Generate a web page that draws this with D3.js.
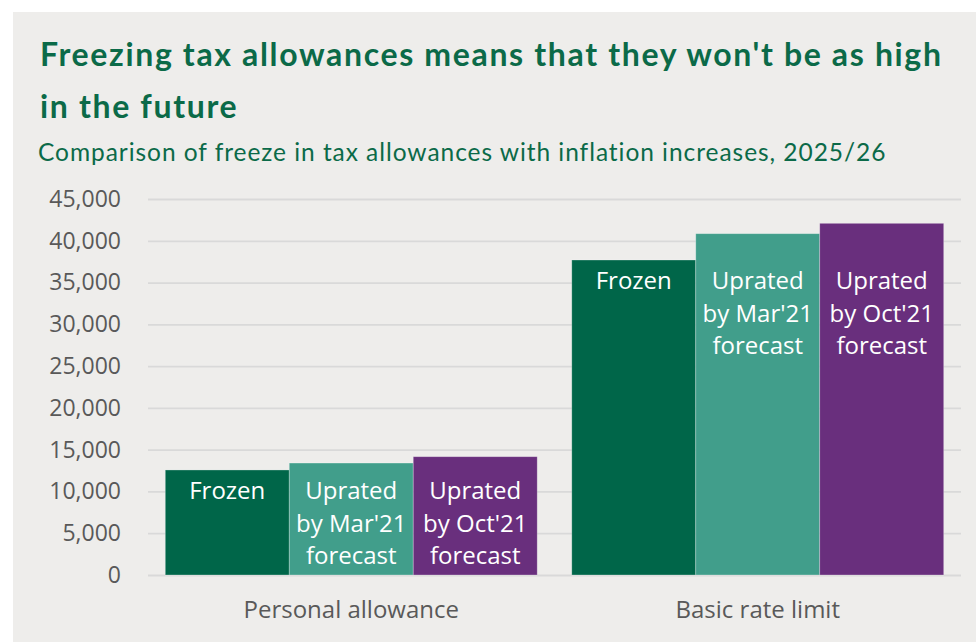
<!DOCTYPE html>
<html>
<head>
<meta charset="utf-8">
<script src="https://cdn.jsdelivr.net/npm/d3@7"></script>
<style>
  html, body { margin: 0; padding: 0; background: #ffffff; }
  svg { display: block; }
</style>
</head>
<body>
<svg id="chart" width="976" height="642"></svg>
<script>
// Categories and series values (2025/26 thresholds, £)
const categories = ["Personal allowance", "Basic rate limit"];
const seriesNames = ["Frozen", "Uprated by Mar'21 forecast", "Uprated by Oct'21 forecast"];
const seriesLabelLines = [["Frozen"], ["Uprated", "by Mar'21", "forecast"], ["Uprated", "by Oct'21", "forecast"]];
const frozen = [12570, 37700];
const upratedMar21 = [13400, 40850];
const upratedOct21 = [14160, 42090];
const yTicks = [0, 5000, 10000, 15000, 20000, 25000, 30000, 35000, 40000, 45000];
const seriesColors = ["#006649", "#419e8b", "#692f7d"];

const seriesValues = [frozen, upratedMar21, upratedOct21];
const rows = categories.map((c, i) => ({
  category: c,
  values: seriesNames.map((s, j) => ({ series: s, idx: j, value: seriesValues[j][i] }))
}));

const svg = d3.select("#chart");
const W = 976, H = 642;
const plot = { left: 148, right: 961, top: 199, bottom: 575 };

// Panel background
svg.append("rect")
  .attr("x", 13).attr("y", 12)
  .attr("width", W - 13).attr("height", H - 12)
  .attr("fill", "#eeedeb");

// Title and subtitle
const titleG = svg.append("g").attr("font-family", "Lato, sans-serif").attr("fill", "#0b6a48");
titleG.append("text").attr("x", 40).attr("y", 66)
  .attr("font-size", 32).attr("font-weight", 700).attr("letter-spacing", 1.65)
  .text("Freezing tax allowances means that they won't be as high");
titleG.append("text").attr("x", 40).attr("y", 118)
  .attr("font-size", 32).attr("font-weight", 700).attr("letter-spacing", 1.65)
  .text("in the future");
titleG.append("text").attr("x", 38).attr("y", 161)
  .attr("font-size", 24.5).attr("font-weight", 400).attr("letter-spacing", 0.95)
  .text("Comparison of freeze in tax allowances with inflation increases, 2025/26");

// Scales
const y = d3.scaleLinear().domain([0, 45000]).range([plot.bottom, plot.top]);
const x0 = d3.scaleBand().domain(categories).range([plot.left, plot.right])
  .paddingInner(0.085).paddingOuter(0.0425);
const x1 = d3.scaleBand().domain(seriesNames).range([0, x0.bandwidth()]).padding(0);

// Gridlines
const yAxisGrid = d3.axisLeft(y).tickValues(yTicks)
  .tickSize(-(plot.right - plot.left)).tickFormat("");
svg.append("g")
  .attr("transform", `translate(${plot.left},0)`)
  .call(yAxisGrid)
  .call(g => g.select(".domain").remove())
  .call(g => g.selectAll("line").attr("stroke", "#d9d9d9").attr("stroke-width", 1.8));

// Y tick labels
const yAxis = d3.axisLeft(y).tickValues(yTicks).tickSize(0).tickPadding(27)
  .tickFormat(d3.format(","));
svg.append("g")
  .attr("transform", `translate(${plot.left},0)`)
  .call(yAxis)
  .call(g => g.select(".domain").remove())
  .call(g => g.selectAll("text")
    .attr("font-family", "'Open Sans', sans-serif")
    .attr("font-size", 23)
    .attr("fill", "#595959"));

// Bars
const groups = svg.append("g").selectAll("g.cat")
  .data(rows).join("g")
  .attr("class", "cat")
  .attr("transform", d => `translate(${x0(d.category)},0)`);

groups.selectAll("rect")
  .data(d => d.values).join("rect")
  .attr("x", d => x1(d.series))
  .attr("y", d => y(d.value))
  .attr("width", x1.bandwidth())
  .attr("height", d => y(0) - y(d.value))
  .attr("fill", d => seriesColors[d.idx])
  .attr("stroke", "rgba(255,255,255,0.35)")
  .attr("stroke-width", 0.8);

// Series labels inside the bars, aligned to the top of the shortest bar
groups.each(function (row) {
  const g = d3.select(this);
  const base = y(d3.min(row.values, v => v.value)) + 29.5;
  row.values.forEach(v => {
    const t = g.append("text")
      .attr("x", x1(v.series) + x1.bandwidth() / 2)
      .attr("y", base)
      .attr("text-anchor", "middle")
      .attr("font-family", "'Open Sans', sans-serif")
      .attr("font-size", 24)
      .attr("fill", "#ffffff");
    seriesLabelLines[v.idx].forEach((line, k) => {
      t.append("tspan")
        .attr("x", x1(v.series) + x1.bandwidth() / 2)
        .attr("dy", k === 0 ? 0 : 32.5)
        .text(line);
    });
  });
});

// Category axis labels
const xAxis = d3.axisBottom(x0).tickSize(0).tickPadding(26);
svg.append("g")
  .attr("transform", `translate(0,${plot.bottom})`)
  .call(xAxis)
  .call(g => g.select(".domain").remove())
  .call(g => g.selectAll("text")
    .attr("font-family", "'Open Sans', sans-serif")
    .attr("font-size", 24)
    .attr("fill", "#595959"));
</script>
</body>
</html>
